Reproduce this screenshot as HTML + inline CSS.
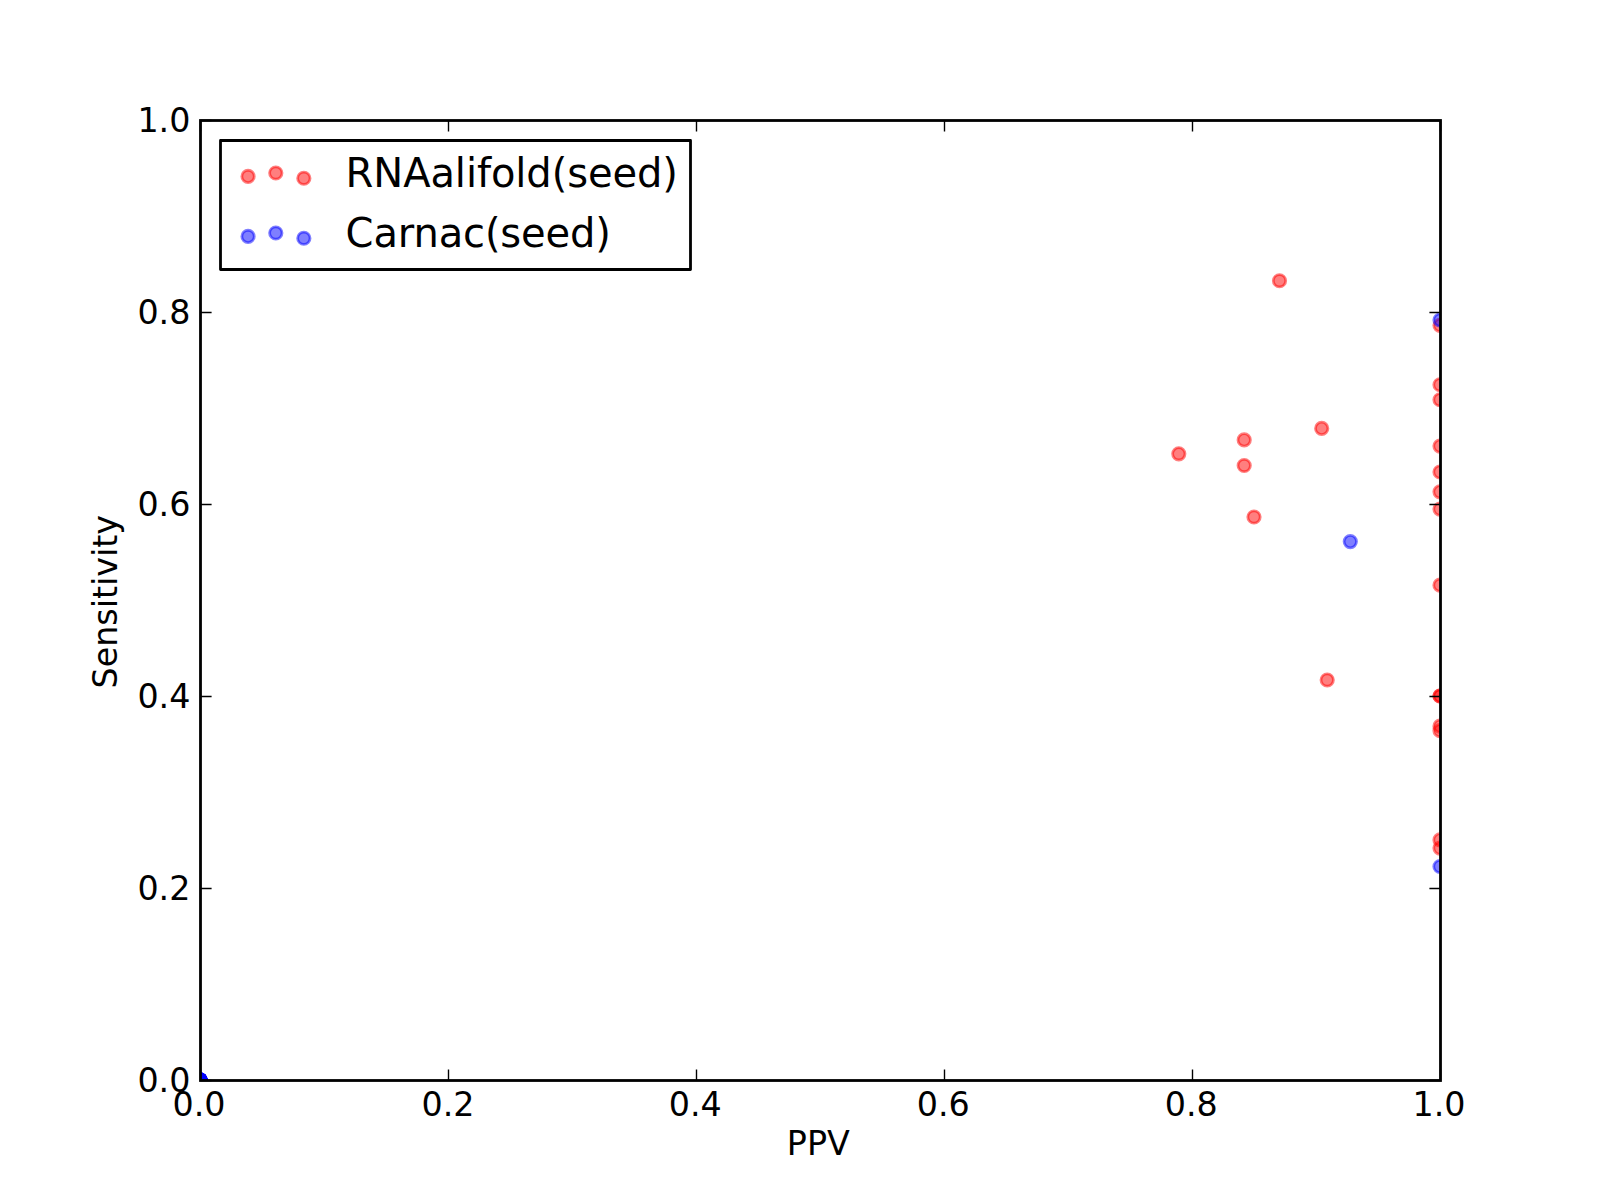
<!DOCTYPE html>
<html lang="en"><head><meta charset="utf-8"><title>PPV vs Sensitivity</title>
<style>
html,body{margin:0;padding:0;background:#fff;}
body{width:1600px;height:1200px;overflow:hidden;}
svg{display:block;}
text{font-family:"DejaVu Sans","Liberation Sans",sans-serif;fill:#000;}
.t{font-size:33.33px;}
.lg{font-size:40px;}
.r{fill:#f00;fill-opacity:.5;stroke:#f00;stroke-opacity:.5;stroke-width:2.78;}
.b{fill:#00f;fill-opacity:.5;stroke:#00f;stroke-opacity:.5;stroke-width:2.78;}
.tk{stroke:#000;stroke-width:1.39;}
</style></head><body>
<svg width="1600" height="1200" viewBox="0 0 1600 1200">
<rect x="0" y="0" width="1600" height="1200" fill="#fff"/>
<defs><clipPath id="ax"><rect x="200" y="120" width="1240" height="960"/></clipPath></defs>

<g clip-path="url(#ax)">
<circle class="r" cx="1178.8" cy="453.8" r="6.2"/>
<circle class="r" cx="1244.2" cy="439.9" r="6.2"/>
<circle class="r" cx="1244.2" cy="465.5" r="6.2"/>
<circle class="r" cx="1254" cy="517" r="6.2"/>
<circle class="r" cx="1279.5" cy="280.75" r="6.2"/>
<circle class="r" cx="1321.7" cy="428.4" r="6.2"/>
<circle class="r" cx="1327.2" cy="680" r="6.2"/>
<circle class="r" cx="1440" cy="325.3" r="6.2"/>
<circle class="r" cx="1440" cy="384.75" r="6.2"/>
<circle class="r" cx="1440" cy="399.75" r="6.2"/>
<circle class="r" cx="1440" cy="446.1" r="6.2"/>
<circle class="r" cx="1440" cy="472" r="6.2"/>
<circle class="r" cx="1440" cy="491.8" r="6.2"/>
<circle class="r" cx="1440" cy="509.1" r="6.2"/>
<circle class="r" cx="1440" cy="585.2" r="6.2"/>
<circle class="r" cx="1440" cy="696" r="6.2"/>
<circle class="r" cx="1440" cy="696" r="6.2"/>
<circle class="r" cx="1440" cy="726.2" r="6.2"/>
<circle class="r" cx="1440" cy="730.7" r="6.2"/>
<circle class="r" cx="1440" cy="839.9" r="6.2"/>
<circle class="r" cx="1440" cy="848.1" r="6.2"/>
<circle class="b" cx="1350.3" cy="541.6" r="6.2"/>
<circle class="b" cx="1440" cy="320" r="6.2"/>
<circle class="b" cx="1440" cy="866.5" r="6.2"/>
<circle class="b" cx="200" cy="1080" r="6.2"/>
<circle class="b" cx="200" cy="1080" r="6.2"/>
<circle class="b" cx="200" cy="1080" r="6.2"/>
<circle class="b" cx="200" cy="1080" r="6.2"/>
<circle class="b" cx="200" cy="1080" r="6.2"/>
<circle class="b" cx="200" cy="1080" r="6.2"/>
<circle class="b" cx="200" cy="1080" r="6.2"/>
<circle class="b" cx="200" cy="1080" r="6.2"/>
<circle class="b" cx="200" cy="1080" r="6.2"/>
<circle class="b" cx="200" cy="1080" r="6.2"/>
<circle class="b" cx="200" cy="1080" r="6.2"/>
<circle class="b" cx="200" cy="1080" r="6.2"/>
<circle class="b" cx="200" cy="1080" r="6.2"/>
<circle class="b" cx="200" cy="1080" r="6.2"/>
<circle class="b" cx="200" cy="1080" r="6.2"/>
<circle class="b" cx="200" cy="1080" r="6.2"/>
<circle class="b" cx="200" cy="1080" r="6.2"/>
<circle class="b" cx="200" cy="1080" r="6.2"/>
<circle class="b" cx="200" cy="1080" r="6.2"/>
<circle class="b" cx="200" cy="1080" r="6.2"/>
<circle class="b" cx="200" cy="1080" r="6.2"/>
<circle class="b" cx="200" cy="1080" r="6.2"/>
<circle class="b" cx="200" cy="1080" r="6.2"/>
<circle class="b" cx="200" cy="1080" r="6.2"/>
<circle class="b" cx="200" cy="1080" r="6.2"/>
</g>
<path class="tk" d="M200.5 1080.5V1069.4M200.5 120.5V131.6"/>
<path class="tk" d="M200.5 1080.5H211.6M1440.5 1080.5H1429.4"/>
<path class="tk" d="M448.5 1080.5V1069.4M448.5 120.5V131.6"/>
<path class="tk" d="M200.5 888.5H211.6M1440.5 888.5H1429.4"/>
<path class="tk" d="M696.5 1080.5V1069.4M696.5 120.5V131.6"/>
<path class="tk" d="M200.5 696.5H211.6M1440.5 696.5H1429.4"/>
<path class="tk" d="M944.5 1080.5V1069.4M944.5 120.5V131.6"/>
<path class="tk" d="M200.5 504.5H211.6M1440.5 504.5H1429.4"/>
<path class="tk" d="M1192.5 1080.5V1069.4M1192.5 120.5V131.6"/>
<path class="tk" d="M200.5 312.5H211.6M1440.5 312.5H1429.4"/>
<path class="tk" d="M1440.5 1080.5V1069.4M1440.5 120.5V131.6"/>
<path class="tk" d="M200.5 120.5H211.6M1440.5 120.5H1429.4"/>
<rect x="200.5" y="120.5" width="1240" height="960" fill="none" stroke="#000" stroke-width="2.8"/>
<text class="t" x="199" y="1116" text-anchor="middle">0.0</text>
<text class="t" x="190.4" y="1092" text-anchor="end">0.0</text>
<text class="t" x="448" y="1116" text-anchor="middle">0.2</text>
<text class="t" x="190.4" y="900" text-anchor="end">0.2</text>
<text class="t" x="695.2" y="1116" text-anchor="middle">0.4</text>
<text class="t" x="190.4" y="708" text-anchor="end">0.4</text>
<text class="t" x="943.2" y="1116" text-anchor="middle">0.6</text>
<text class="t" x="190.4" y="516" text-anchor="end">0.6</text>
<text class="t" x="1191.2" y="1116" text-anchor="middle">0.8</text>
<text class="t" x="190.4" y="324" text-anchor="end">0.8</text>
<text class="t" x="1439" y="1116" text-anchor="middle">1.0</text>
<text class="t" x="190.4" y="132" text-anchor="end">1.0</text>
<text class="t" x="818.3" y="1155" text-anchor="middle">PPV</text>
<text class="t" transform="translate(117 601.7) rotate(-90)" text-anchor="middle">Sensitivity</text>
<rect x="220.5" y="140.5" width="470" height="129" fill="#fff" stroke="#000" stroke-width="2.8" stroke-linejoin="round"/>
<circle class="r" cx="248.05" cy="176.45" r="6.2"/>
<circle class="r" cx="275.8" cy="173" r="6.2"/>
<circle class="r" cx="303.85" cy="178.25" r="6.2"/>
<circle class="b" cx="248.05" cy="236.45" r="6.2"/>
<circle class="b" cx="275.8" cy="233" r="6.2"/>
<circle class="b" cx="303.85" cy="238.25" r="6.2"/>
<text class="lg" x="345.6" y="187" textLength="332.3">RNAalifold(seed)</text>
<text class="lg" x="345.6" y="247" textLength="265.3">Carnac(seed)</text>
</svg>
</body></html>
